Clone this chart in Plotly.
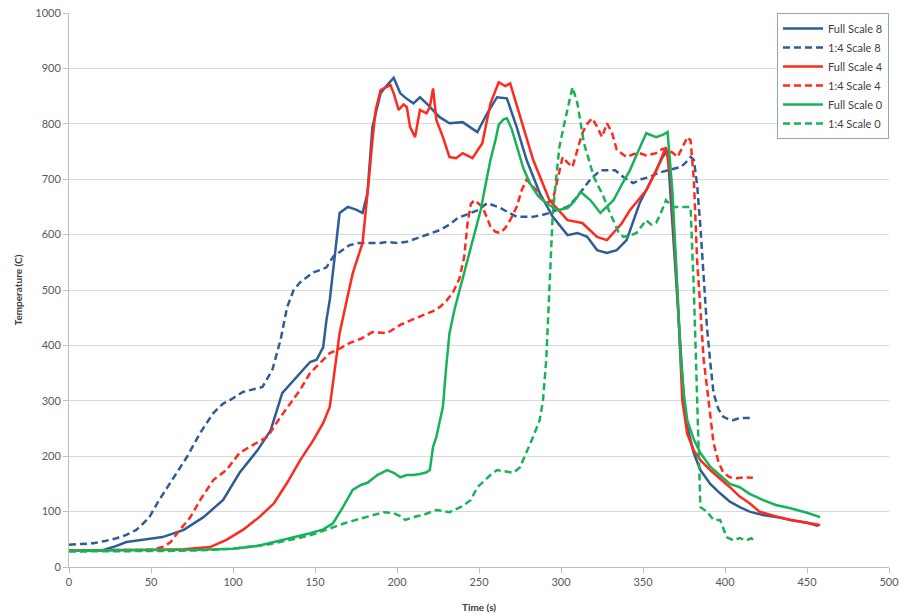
import plotly.graph_objects as go

# ---- data ----
fs8_t = [0,10,20,27,35,45,57,70,82,94,104,115,123,130,139,147,151,155,157,159,162,165,170,175,179,182,185,190,194,198,202,206,210,214,218,222,226,232,240,249,255,261,267,273,279,287,295,304,310,316,322,328,334,340,348,356,362,365,368,371,373,375,377,381,385,391,397,403,409,415,423,432,440,450,457]
fs8_T = [30,30,30,36,45,49,54,67,90,121,170,211,247,314,343,370,374,397,446,482,560,639,650,645,639,675,794,855,870,883,855,845,837,848,837,825,812,801,803,785,819,848,846,794,735,675,632,599,603,596,572,567,572,590,657,704,740,753,614,480,374,300,253,205,175,150,133,118,108,100,94,90,85,80,74]

q8_t = [0,8,15,22,29,35,41,45,49,55,63,72,80,88,94,98,106,112,118,124,129,133,137,141,145,149,153,157,161,165,171,177,182,190,194,200,206,212,218,226,232,237,245,250,255,259,263,268,273,279,283,288,293,298,304,309,313,318,324,328,333,338,344,349,354,360,365,369,373,376,379,381,383,385,387,389,391,393,396,399,402,405,409,413,416]
q8_T = [40,41,43,47,52,58,67,78,90,121,157,199,242,278,295,301,316,320,325,356,410,469,500,514,523,532,536,541,560,569,581,585,585,585,587,585,587,593,599,608,618,630,639,645,657,652,648,640,632,632,632,635,639,645,650,665,680,700,716,716,716,704,693,700,704,712,716,720,722,730,740,735,690,614,520,433,370,314,285,271,267,265,269,269,269]

fs4_t = [0,20,40,55,70,86,96,106,116,125,133,141,149,155,159,162,165,170,173,179,181,183,185,187,190,193,196,198,201,204,206,208,211,214,218,220,222,224,228,232,236,240,246,252,257,262,266,269,275,283,293,304,313,322,328,332,337,342,352,358,364,367,369,371,374,377,381,385,391,397,403,409,415,421,430,440,450,458]
fs4_T = [30,30,30,31,32,36,49,67,90,115,152,193,229,260,289,361,422,490,530,585,640,704,770,825,861,865,870,855,825,835,830,794,776,825,819,830,864,807,776,740,738,747,738,765,837,875,868,873,812,735,662,626,621,596,590,603,620,644,680,715,758,700,600,494,300,240,210,193,175,160,144,127,115,100,92,85,80,76]

q4_t = [0,20,40,50,57,62,66,70,74,80,88,96,104,112,121,129,135,141,147,153,159,165,171,178,185,194,202,209,216,222,226,230,234,238,241,243,245,247,249,252,255,257,260,263,266,269,273,276,279,282,285,288,291,295,298,301,304,307,310,313,316,319,322,325,328,331,334,340,344,348,352,358,362,365,368,371,374,377,379,381,383,385,387,390,393,396,399,403,407,412,417]
q4_T = [30,30,30,31,36,45,61,75,90,121,157,175,206,220,235,271,296,320,350,368,386,394,404,412,424,422,437,446,455,462,469,480,495,520,560,620,655,662,658,650,630,614,605,603,612,626,650,680,699,690,680,665,657,662,700,740,730,722,753,783,800,810,795,776,801,785,753,740,745,747,743,747,755,753,748,740,757,776,770,700,554,470,374,300,224,190,170,162,160,162,161]

fs0_t = [0,20,40,60,80,100,115,125,135,147,155,161,167,173,178,182,188,194,198,202,206,210,214,218,220,222,224,228,230,232,235,240,243,247,251,254,257,260,262,265,267,270,273,277,281,286,291,298,304,308,312,315,318,324,328,332,337,342,347,352,358,362,365,368,371,373,375,377,381,385,391,397,403,409,415,423,431,440,450,458]
fs0_T = [30,30,30,30,31,33,38,45,52,61,68,79,108,139,148,152,166,175,170,162,166,166,168,171,175,217,235,289,361,422,464,520,554,600,644,690,735,770,798,808,810,790,758,720,693,670,657,644,648,660,677,670,662,639,650,662,690,716,750,783,776,780,785,675,500,374,310,265,230,206,181,165,150,144,132,121,112,106,98,90]

q0_t = [0,20,40,60,80,100,120,140,150,161,168,175,184,192,198,202,205,210,216,224,232,236,240,245,249,253,257,261,266,271,275,279,283,287,289,291,293,295,297,299,302,304,307,310,312,314,317,320,323,326,329,332,335,338,342,346,349,352,355,358,361,364,368,373,376,379,381,383,385,389,393,397,399,401,405,409,413,416,419]
q0_T = [28,28,28,29,30,33,40,52,60,72,79,85,92,99,97,92,85,90,94,103,99,104,110,121,144,155,166,175,172,170,180,206,235,265,300,374,494,639,700,758,800,825,866,837,800,765,735,704,686,668,645,626,605,596,598,603,615,626,618,621,640,662,650,650,650,650,500,314,108,100,85,85,70,54,48,52,48,52,45]

series_names = ["Full Scale 8", "1:4 Scale 8", "Full Scale 4", "1:4 Scale 4", "Full Scale 0", "1:4 Scale 0"]

x_ticks = [0, 50, 100, 150, 200, 250, 300, 350, 400, 450, 500]
y_ticks = [0, 100, 200, 300, 400, 500, 600, 700, 800, 900, 1000]

BLUE = "#2F5D97"
RED = "#FF2A1E"
GREEN = "#19B25A"
DASH = "7px,4px"

specs = [
    (fs8_t, fs8_T, BLUE, "solid"),
    (q8_t, q8_T, BLUE, DASH),
    (fs4_t, fs4_T, RED, "solid"),
    (q4_t, q4_T, RED, DASH),
    (fs0_t, fs0_T, GREEN, "solid"),
    (q0_t, q0_T, GREEN, DASH),
]

fig = go.Figure()
for name, (tx, ty, col, dash) in zip(series_names, specs):
    fig.add_trace(go.Scatter(x=tx, y=ty, mode="lines", name=name,
                             line=dict(color=col, width=2.5, dash=dash)))

FONT = "Lato, 'Open Sans', sans-serif"

fig.update_layout(
    width=907, height=616,
    margin=dict(l=69, r=18, t=13, b=49, autoexpand=False),
    paper_bgcolor="white", plot_bgcolor="white",
    font=dict(family=FONT, size=11, color="#595959"),
    showlegend=True,
    legend=dict(x=1, y=1, xanchor="right", yanchor="top",
                bgcolor="white", bordercolor="#8FA3C4", borderwidth=1,
                font=dict(size=11, color="#404040"),
                tracegroupgap=0, itemwidth=40),
    xaxis=dict(range=[0, 500], tickvals=x_ticks, showgrid=False, zeroline=False,
               automargin=False, ticklabeloverflow="allow",
               showline=True, linecolor="#BFBFBF", linewidth=1,
               ticks="outside", ticklen=5, tickcolor="#BFBFBF",
               tickfont=dict(size=11, color="#595959"),
               title=dict(text="<b>Time (s)</b>", font=dict(size=10, color="#404040"), standoff=16)),
    yaxis=dict(range=[0, 1000], tickvals=y_ticks, showgrid=True, gridcolor="#D9D9D9", gridwidth=1,
               zeroline=False, automargin=False, ticklabeloverflow="allow",
               showline=True, linecolor="#BFBFBF", linewidth=1,
               ticks="outside", ticklen=5, tickcolor="#BFBFBF",
               tickfont=dict(size=11, color="#595959"),
               title=dict(text="<b>Temperature (C)</b>", font=dict(size=10, color="#404040"), standoff=10)),
)

# remove the browser's default 8px body margin so the 907x616 figure fills the window
fig.write_html("out.html",
               config={"displayModeBar": False},
               post_script="document.body.style.margin='0';document.body.style.overflow='hidden';")
